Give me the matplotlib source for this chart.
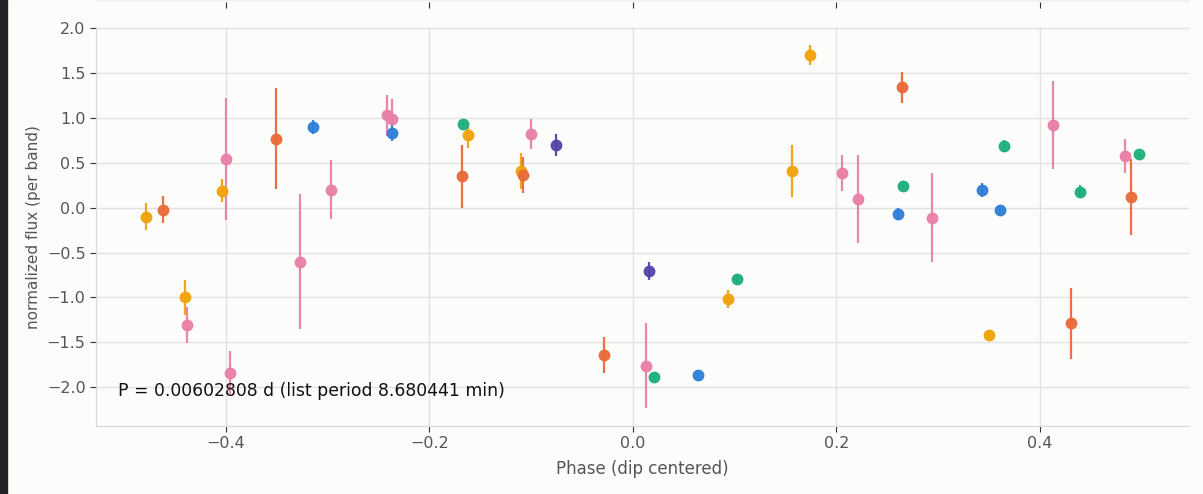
import numpy as np
import matplotlib.pyplot as plt
from matplotlib.patches import Rectangle

# phase, flux, error per band
amber_x = [-0.479, -0.440, -0.404, -0.162, -0.110, 0.094, 0.156, 0.174, 0.350]
amber_y = [-0.10, -1.00, 0.19, 0.81, 0.41, -1.02, 0.41, 1.70, -1.42]
amber_e = [0.15, 0.19, 0.13, 0.14, 0.20, 0.10, 0.29, 0.11, 0.05]

red_x = [-0.462, -0.351, -0.168, -0.108, -0.028, 0.265, 0.431, 0.490]
red_y = [-0.02, 0.77, 0.35, 0.36, -1.64, 1.34, -1.29, 0.12]
red_e = [0.15, 0.56, 0.35, 0.20, 0.20, 0.17, 0.40, 0.42]

pink_x = [-0.438, -0.400, -0.396, -0.327, -0.297, -0.242, -0.237, -0.100,
          0.013, 0.206, 0.221, 0.294, 0.413, 0.484]
pink_y = [-1.31, 0.54, -1.84, -0.60, 0.20, 1.03, 0.99, 0.82,
          -1.76, 0.39, 0.10, -0.11, 0.92, 0.58]
pink_e = [0.20, 0.68, 0.24, 0.75, 0.33, 0.23, 0.22, 0.17,
          0.47, 0.20, 0.49, 0.50, 0.49, 0.19]

blue_x = [-0.314, -0.237, 0.064, 0.261, 0.343, 0.361]
blue_y = [0.90, 0.83, -1.86, -0.07, 0.20, -0.03]
blue_e = [0.08, 0.09, 0.02, 0.07, 0.08, 0.04]

green_x = [-0.167, 0.021, 0.102, 0.266, 0.365, 0.440, 0.498]
green_y = [0.93, -1.89, -0.79, 0.24, 0.69, 0.18, 0.60]
green_e = [0.02, 0.04, 0.05, 0.02, 0.07, 0.07, 0.02]

purple_x = [-0.076, 0.016]
purple_y = [0.70, -0.71]
purple_e = [0.12, 0.10]

bands = [
    (amber_x, amber_y, amber_e, '#f0a30a'),
    (red_x, red_y, red_e, '#ea6a3a'),
    (pink_x, pink_y, pink_e, '#e97fa8'),
    (blue_x, blue_y, blue_e, '#2f7ed8'),
    (green_x, green_y, green_e, '#1daf7b'),
    (purple_x, purple_y, purple_e, '#5244a8'),
]

bg = '#fcfcfa'
fig = plt.figure(figsize=(12.03, 4.94), dpi=100, facecolor=bg)
ax = fig.add_axes([0.0798, 0.1377, 0.9086, 0.8073], facecolor=bg)

for x, y, e, c in bands:
    ax.errorbar(x, y, yerr=e, fmt='o', color=c, ms=7.5, elinewidth=1.6,
                capsize=0, ecolor=c, alpha=0.95, zorder=3)

ax.grid(True, color='#e2e2e0', lw=1, zorder=0)
ax.set_axisbelow(True)
for s in ['top', 'right']:
    ax.spines[s].set_visible(False)
for s in ['left', 'bottom']:
    ax.spines[s].set_color('#d6d6d2')
ax.tick_params(colors='#333333', labelcolor='#555555', labelsize=11.5, length=4)
ax.set_xlabel('Phase (dip centered)', fontsize=12, color='#555555', labelpad=6)
ax.set_ylabel('normalized flux (per band)', fontsize=11, color='#555555')
ax.set_yticks(np.arange(-2.0, 2.01, 0.5))
ax.text(0.02, 0.075, 'P = 0.00602808 d (list period 8.680441 min)',
        transform=ax.transAxes, fontsize=12.4, color='#111111')

# strip of the panel above
top = fig.add_axes([0.0798, 1 - 2 / 494, 0.9086, 2 / 494], sharex=ax,
                   facecolor='#f1f1ef')
for s in top.spines.values():
    s.set_visible(False)
top.tick_params(axis='x', labelbottom=False, length=4, colors='#333333')
top.set_yticks([])

fig.add_artist(Rectangle((0, 0), 7 / 1203, 1, transform=fig.transFigure,
                         color='#232327', zorder=10))

fig.savefig('out.png', dpi=100, facecolor=bg)
